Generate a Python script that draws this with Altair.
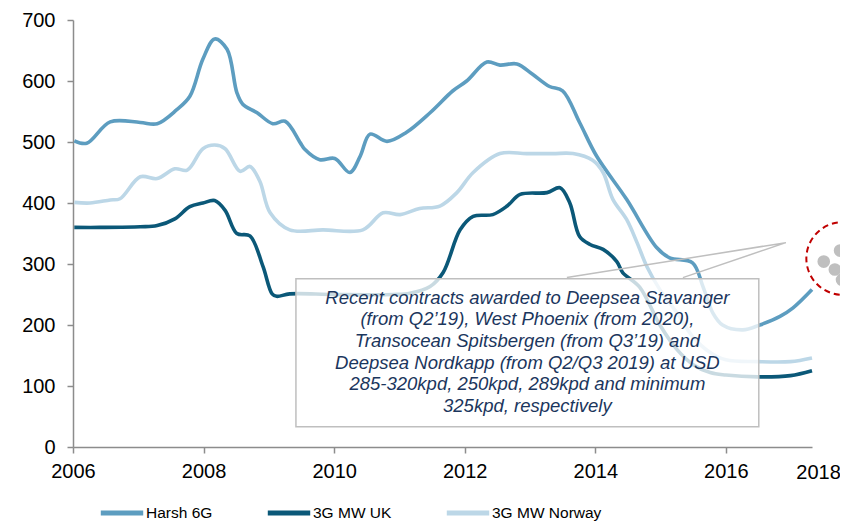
import altair as alt
import pandas as pd

# ---- data ----
harsh_year = [2006.02, 2006.21, 2006.57, 2007.03, 2007.29, 2007.59, 2007.79, 2007.99, 2008.17, 2008.36,
              2008.51, 2008.60, 2008.82, 2009.06, 2009.25, 2009.48, 2009.55, 2009.78, 2010.01, 2010.24,
              2010.40, 2010.55, 2010.81, 2011.11, 2011.47, 2011.82, 2012.03, 2012.34, 2012.54, 2012.80,
              2013.04, 2013.30, 2013.50, 2013.76, 2014.02, 2014.48, 2014.94, 2015.14, 2015.49, 2015.65,
              2015.80, 2015.95, 2016.26, 2016.52, 2016.83, 2017.03, 2017.32]
harsh_val = [502, 498, 533, 532, 530, 553, 575, 636, 669, 652,
             581, 562, 548, 530, 534, 499, 488, 471, 473, 450,
             477, 513, 501, 516, 548, 584, 600, 631, 626, 628,
             611, 591, 584, 532, 477, 406, 327, 310, 302, 263,
             220, 200, 192, 200, 214, 228, 258]

uk_year = [2006.02, 2006.41, 2007.03, 2007.29, 2007.56, 2007.79, 2007.99, 2008.17, 2008.33, 2008.51,
           2008.71, 2008.91, 2009.05, 2009.12, 2009.32, 2010.00, 2010.90, 2011.16, 2011.47, 2011.67,
           2011.93, 2012.13, 2012.43, 2012.65, 2012.85, 2013.26, 2013.46, 2013.61, 2013.76, 2013.92,
           2014.12, 2014.33, 2014.42, 2014.68, 2014.99, 2015.25, 2015.50, 2015.76, 2016.00, 2016.49,
           2016.99, 2017.32]
uk_val = [360, 360, 361, 363, 374, 394, 400, 404, 388, 350,
          346, 296, 251, 247, 251, 250, 250, 252, 263, 286,
          356, 378, 381, 395, 414, 417, 425, 400, 345, 332,
          324, 304, 286, 262, 200, 160, 135, 122, 118, 115,
          117, 125]

nor_year = [2006.02, 2006.26, 2006.57, 2006.72, 2007.03, 2007.29, 2007.56, 2007.75, 2007.99, 2008.17,
            2008.33, 2008.56, 2008.71, 2008.86, 2009.02, 2009.32, 2009.83, 2010.44, 2010.75, 2011.01,
            2011.31, 2011.62, 2011.88, 2012.13, 2012.54, 2012.95, 2013.35, 2013.66, 2013.96, 2014.12,
            2014.27, 2014.48, 2014.64, 2014.79, 2014.99, 2015.25, 2015.50, 2015.76, 2016.00, 2016.49,
            2016.99, 2017.32]
nor_val = [401, 400, 405, 407, 443, 440, 456, 454, 489, 495,
           489, 452, 460, 436, 384, 356, 356, 356, 384, 381,
           391, 395, 417, 450, 481, 481, 481, 481, 470, 450,
           406, 373, 335, 296, 258, 220, 180, 155, 143, 140,
           140, 146]

series_names = ["Harsh 6G", "3G MW UK", "3G MW Norway"]
series_colors = ["#5D9DC0", "#0B5878", "#BCD7E7"]

x_ticks = [2006, 2008, 2010, 2012, 2014, 2016]
y_ticks = [0, 100, 200, 300, 400, 500, 600, 700]
last_label = "2018"
last_label_year = 2017.42

# annotation (in data units)
box_x = [2009.415, 2016.505]
box_y = [33, 276]
note_lines = ["Recent contracts awarded to Deepsea Stavanger",
              "(from Q2\u201919), West Phoenix (from 2020),",
              "Transocean Spitsbergen (from Q3\u201919) and",
              "Deepsea Nordkapp (from Q2/Q3 2019) at USD",
              "285-320kpd, 250kpd, 289kpd and minimum",
              "325kpd, respectively"]
note_x, note_y = 2012.96, 245
callout_year = [2013.565, 2016.919, 2015.342]
callout_val = [277.7, 335, 277.7]
circle_year, circle_val = 2017.79, 309
dot_year = [2017.50, 2017.75, 2017.67, 2017.78]
dot_val = [304, 322, 291, 274]

FONT = "Liberation Sans"

rows = []
for name, ys, vs in [(series_names[0], harsh_year, harsh_val),
                     (series_names[1], uk_year, uk_val),
                     (series_names[2], nor_year, nor_val)]:
    for y, v in zip(ys, vs):
        rows.append({"year": y, "value": v, "series": name})
df = pd.DataFrame(rows)

xscale = alt.Scale(domain=[2006, 2017.32], nice=False, zero=False)
yscale = alt.Scale(domain=[0, 700], nice=False)

lines = alt.Chart(df).mark_line(strokeWidth=3.6, interpolate="catmull-rom").encode(
    x=alt.X("year:Q", scale=xscale,
            axis=alt.Axis(values=x_ticks, format="d", title=None, grid=False,
                          labelFlush=False, labelPadding=8)),
    y=alt.Y("value:Q", scale=yscale,
            axis=alt.Axis(values=y_ticks, title=None, grid=False, labelPadding=12)),
    color=alt.Color("series:N", sort=series_names,
                    scale=alt.Scale(domain=series_names, range=series_colors),
                    legend=alt.Legend(title=None, orient="none", legendX=25, legendY=469,
                                      direction="horizontal", symbolType="stroke",
                                      symbolSize=1800, symbolStrokeWidth=5,
                                      labelFontSize=15.5, labelFont=FONT,
                                      labelColor="#000000", labelOffset=0,
                                      gridAlign="none", columnPadding=44, padding=0)),
    order=alt.Order("year:Q"),
)

def xe(field):
    return alt.X(field, scale=xscale, title=None)

def ye(field):
    return alt.Y(field, scale=yscale, title=None)

box_df = pd.DataFrame({"x": [box_x[0]], "x2": [box_x[1]], "y": [box_y[0]], "y2": [box_y[1]]})
box = alt.Chart(box_df).mark_rect(fill="white", fillOpacity=0.78, stroke="#BFBFBF",
                                  strokeWidth=1.5).encode(
    x=xe("x:Q"), x2="x2", y=ye("y:Q"), y2="y2")

callout_df = pd.DataFrame({"year": callout_year, "value": callout_val, "i": [0, 1, 2]})
callout = alt.Chart(callout_df).mark_line(color="#BFBFBF", strokeWidth=1.5).encode(
    x=xe("year:Q"), y=ye("value:Q"), order="i:Q")

circle_df = pd.DataFrame({"year": [circle_year], "value": [circle_val]})
circle = alt.Chart(circle_df).mark_point(shape="circle", size=5280, filled=False,
                                         stroke="#C00000", strokeWidth=2,
                                         strokeDash=[6, 4], opacity=1).encode(
    x=xe("year:Q"), y=ye("value:Q"))

dots_df = pd.DataFrame({"year": dot_year, "value": dot_val})
dots = alt.Chart(dots_df).mark_circle(size=160, color="#BFBFBF", opacity=1).encode(
    x=xe("year:Q"), y=ye("value:Q"))

note_df = pd.DataFrame({"year": [note_x], "value": [note_y], "txt": ["\n".join(note_lines)]})
note = alt.Chart(note_df).mark_text(font=FONT, fontSize=18.5, fontStyle="italic",
                                    color="#1B365D", align="center", baseline="middle",
                                    lineBreak="\n", lineHeight=21.7).encode(
    x=xe("year:Q"), y=ye("value:Q"), text="txt:N")

last_df = pd.DataFrame({"year": [last_label_year], "value": [0], "txt": [last_label]})
last = alt.Chart(last_df).mark_text(font=FONT, fontSize=20, color="#000000",
                                    align="center", baseline="top", dy=16).encode(
    x=xe("year:Q"), y=ye("value:Q"), text="txt:N")

chart = alt.layer(lines, box, callout, circle, dots, note, last).properties(
    width=739, height=427,
    autosize=alt.AutoSizeParams(type="none"),
    padding={"left": 65, "top": 12, "right": 28, "bottom": 74},
).configure_view(stroke=None).configure_axis(
    domainColor="#8C8C8C", domainWidth=1.5, tickColor="#8C8C8C",
    tickWidth=1.5, tickSize=6, labelFontSize=20, labelFont=FONT, labelColor="#000000",
)

chart.save("out.html", embed_options={"renderer": "svg", "actions": False})
